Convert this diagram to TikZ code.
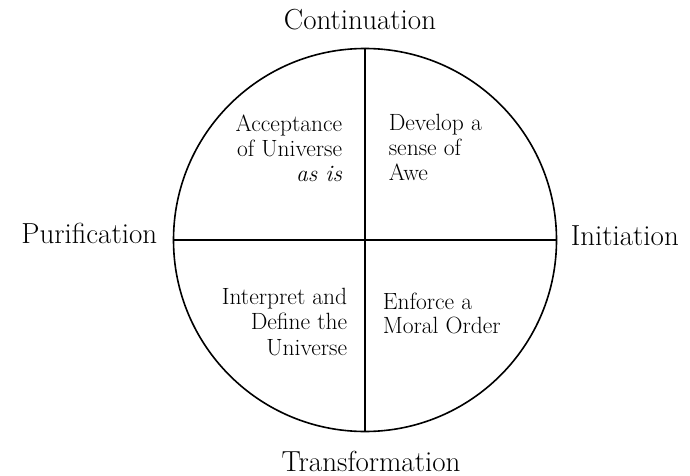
\documentclass[tikz,border=0pt]{standalone}
\usepackage{tikz}
\usetikzlibrary{positioning}

\begin{document}
\begin{tikzpicture}[x=1pt, y=-1pt, line width=1.6pt]
\useasboundingbox (0,0) rectangle (690,476);
\node (wheel) [circle, draw, minimum size=383pt, inner sep=0pt] at (365,240) {};
\draw (wheel.north) -- (wheel.south);
\draw (wheel.west) -- (wheel.east);
% quadrant texts
\node (accept) [anchor=north east, inner sep=0pt, align=right, font=\fontsize{23.5}{25}\selectfont] at (343,114) {Acceptance\\of Universe\\\textit{as is}};
\node (awe) [anchor=north west, inner sep=0pt, align=left, font=\fontsize{23.5}{25}\selectfont] at (388,113) {Develop a\\sense of\\Awe};
\node (define) [anchor=north east, inner sep=0pt, align=right, font=\fontsize{23.5}{25.5}\selectfont] at (348,287) {Interpret and\\Define the\\Universe};
\node (order) [anchor=north west, inner sep=0pt, align=left, font=\fontsize{23.5}{24}\selectfont] at (382,292) {Enforce a\\Moral Order};
% outer labels
\node (cont) [anchor=base, inner sep=0pt, font=\fontsize{29}{30}\selectfont] at (360,30) {Continuation};
\node (trans) [anchor=base, inner sep=0pt, font=\fontsize{29}{30}\selectfont] at (371,471) {Transformation};
\node (puri) [anchor=base east, inner sep=0pt, font=\fontsize{29}{30}\selectfont] at (158,243) {Purification};
\node (init) [anchor=base west, inner sep=0pt, font=\fontsize{29}{30}\selectfont] at (570,245) {Initiation};
\end{tikzpicture}
\end{document}
